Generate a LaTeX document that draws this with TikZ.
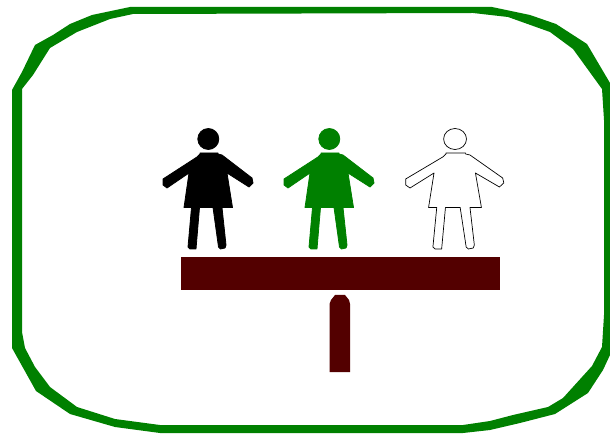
\documentclass[tikz,border=0pt]{standalone}
\usepackage{xcolor}
\definecolor{framegreen}{HTML}{008000}
\definecolor{barred}{HTML}{530000}
\newcommand{\person}[3]{
  \begin{scope}[xshift=#1,xscale=#2,#3]
  \path[personline] (208.3,139) circle (10.5);
  \path[personline] (200,153) -- (200,154) -- (197,157) -- (163,179) -- (163,185) -- (167,188)
    -- (189,173) -- (184,207.5) -- (191.5,207.5) -- (188,247) -- (190,249) -- (196,249)
    -- (199.5,207.5) -- (213,207.5) -- (218.5,247) -- (220.5,249) -- (225,248) -- (226,245)
    -- (222,207.5) -- (232.5,207.5) -- (227,173) -- (249,187) -- (253,183) -- (252,178)
    -- (222,155) -- (218,154) -- (218,153) -- cycle;
  \end{scope}
}
\tikzset{personline/.style={}}
\begin{document}
\begin{tikzpicture}[x=1pt,y=-1pt,line join=round]
\useasboundingbox (0,0) rectangle (610,435);
\fill[framegreen,even odd rule]
  (12,90) -- (22,72) -- (35,45) -- (53,35) -- (70,24) -- (92,15) -- (130,7) -- (492,7)
  -- (530,15) -- (556,24) -- (587,44) -- (610,83) -- (610,355) -- (603,370) -- (588,393)
  -- (555,414) -- (520,423) -- (490,430) -- (463,433) -- (160,433) -- (115,427) -- (70,414)
  -- (36,391) -- (12,348) -- cycle
  (22,89) -- (33,75) -- (50,48) -- (77,32) -- (110,19) -- (133,14) -- (473,13) -- (508,17)
  -- (550,32) -- (573,49) -- (602,89) -- (604,120) -- (604,315) -- (602,347) -- (592,366)
  -- (563,398) -- (548,407) -- (513,415) -- (490,421) -- (463,425) -- (160,425) -- (115,419)
  -- (77,407) -- (50,387) -- (35,367) -- (25,348) -- (22,332) -- cycle;

\person{0pt}{1}{personline/.style={draw=black,fill=black,line width=0.8pt}}
\person{121pt}{1}{personline/.style={draw=framegreen,fill=framegreen,line width=0.8pt}}
\person{228pt}{1.09}{personline/.style={draw=black,fill=white,line width=0.7pt}}

\fill[barred] (181,257) rectangle (500,290);
\fill[barred] (329.5,372) -- (329.5,304) -- (331,300) -- (335,295) -- (345,295)
  -- (349,300) -- (350,304) -- (350,372) -- cycle;
\end{tikzpicture}
\end{document}
